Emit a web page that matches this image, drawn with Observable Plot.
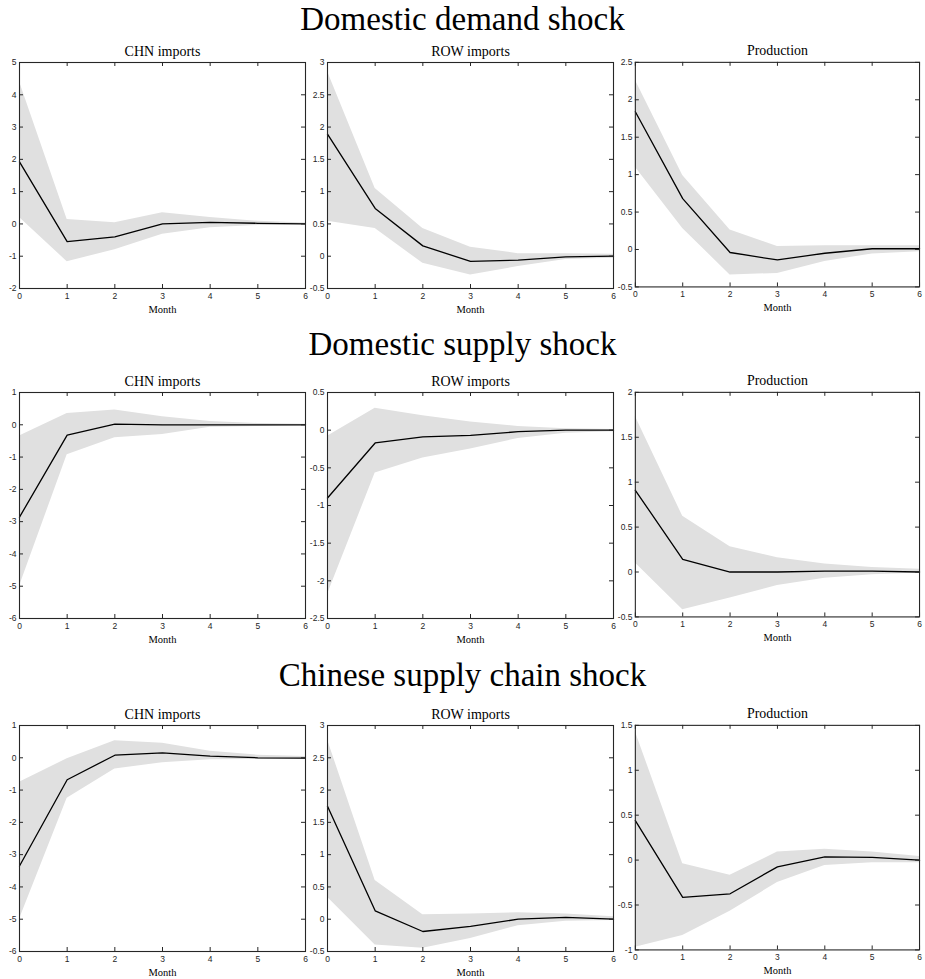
<!DOCTYPE html>
<html>
<head>
<meta charset="utf-8">
<script src="https://cdn.jsdelivr.net/npm/d3@7"></script>
<script src="https://cdn.jsdelivr.net/npm/@observablehq/plot@0.6"></script>
<style>
  body { margin: 0; background: #fff; }
  #chart { position: relative; width: 925px; height: 979px; }
  .row-title {
    position: absolute; left: 0; width: 925px; text-align: center;
    font-family: "Liberation Serif", serif; font-size: 33px; line-height: 1; color: #000;
  }
  .panel { position: absolute; }
</style>
</head>
<body>
<div id="chart"></div>
<script>
const months = [0, 1, 2, 3, 4, 5, 6]
const shocks = ["Domestic demand shock", "Domestic supply shock", "Chinese supply chain shock"]
const variables = ["CHN imports", "ROW imports", "Production"]

// Domestic demand shock
const demandChnMid = [1.92, -0.55, -0.40, 0.00, 0.05, 0.02, 0.00]
const demandChnLo  = [0.20, -1.17, -0.80, -0.32, -0.12, -0.05, -0.03]
const demandChnHi  = [4.40, 0.14, 0.04, 0.35, 0.20, 0.08, 0.03]
const demandRowMid = [1.89, 0.74, 0.16, -0.08, -0.06, -0.01, 0.00]
const demandRowLo  = [0.54, 0.43, -0.11, -0.29, -0.16, -0.05, -0.03]
const demandRowHi  = [2.86, 1.05, 0.43, 0.14, 0.04, 0.04, 0.03]
const demandProdMid = [1.84, 0.68, -0.04, -0.14, -0.05, 0.01, 0.01]
const demandProdLo  = [1.10, 0.28, -0.34, -0.32, -0.16, -0.06, -0.03]
const demandProdHi  = [2.26, 0.99, 0.26, 0.04, 0.05, 0.05, 0.05]

// Domestic supply shock
const supplyChnMid = [-2.86, -0.32, 0.02, 0.00, 0.00, 0.00, 0.00]
const supplyChnLo  = [-5.00, -0.93, -0.40, -0.30, -0.08, -0.05, -0.02]
const supplyChnHi  = [-0.35, 0.35, 0.46, 0.25, 0.10, 0.04, 0.02]
const supplyRowMid = [-0.90, -0.17, -0.09, -0.07, -0.02, 0.00, 0.00]
const supplyRowLo  = [-2.18, -0.57, -0.37, -0.25, -0.11, -0.04, -0.02]
const supplyRowHi  = [-0.08, 0.29, 0.19, 0.11, 0.05, 0.02, 0.01]
const supplyProdMid = [0.91, 0.14, 0.00, 0.00, 0.01, 0.01, 0.00]
const supplyProdLo  = [0.10, -0.42, -0.29, -0.15, -0.07, -0.03, -0.01]
const supplyProdHi  = [1.73, 0.62, 0.28, 0.16, 0.09, 0.05, 0.03]

// Chinese supply chain shock
const chinaChnMid = [-3.35, -0.68, 0.08, 0.15, 0.05, 0.00, -0.01]
const chinaChnLo  = [-5.00, -1.25, -0.35, -0.15, -0.06, -0.05, -0.05]
const chinaChnHi  = [-0.76, -0.03, 0.53, 0.45, 0.20, 0.08, 0.04]
const chinaRowMid = [1.75, 0.13, -0.19, -0.11, 0.00, 0.03, 0.00]
const chinaRowLo  = [0.34, -0.40, -0.45, -0.30, -0.10, -0.03, -0.02]
const chinaRowHi  = [2.78, 0.60, 0.07, 0.08, 0.10, 0.08, 0.04]
const chinaProdMid = [0.44, -0.415, -0.375, -0.075, 0.035, 0.03, 0.00]
const chinaProdLo  = [-0.97, -0.84, -0.57, -0.25, -0.06, -0.03, -0.03]
const chinaProdHi  = [1.43, -0.04, -0.17, 0.09, 0.12, 0.09, 0.04]

// y tick labels for each panel
const ticksDemandChn = [-2, -1, 0, 1, 2, 3, 4, 5]
const ticksDemandRow = [-0.5, 0, 0.5, 1, 1.5, 2, 2.5, 3]
const ticksDemandProd = [-0.5, 0, 0.5, 1, 1.5, 2, 2.5]
const ticksSupplyChn = [-6, -5, -4, -3, -2, -1, 0, 1]
const ticksSupplyRow = [-2.5, -2, -1.5, -1, -0.5, 0, 0.5]
const ticksSupplyProd = [-0.5, 0, 0.5, 1, 1.5, 2]
const ticksChinaChn = [-6, -5, -4, -3, -2, -1, 0, 1]
const ticksChinaRow = [-0.5, 0, 0.5, 1, 1.5, 2, 2.5, 3]
const ticksChinaProd = [-1, -0.5, 0, 0.5, 1, 1.5]

const panels = [
  [[demandChnMid, demandChnLo, demandChnHi, ticksDemandChn],
   [demandRowMid, demandRowLo, demandRowHi, ticksDemandRow],
   [demandProdMid, demandProdLo, demandProdHi, ticksDemandProd]],
  [[supplyChnMid, supplyChnLo, supplyChnHi, ticksSupplyChn],
   [supplyRowMid, supplyRowLo, supplyRowHi, ticksSupplyRow],
   [supplyProdMid, supplyProdLo, supplyProdHi, ticksSupplyProd]],
  [[chinaChnMid, chinaChnLo, chinaChnHi, ticksChinaChn],
   [chinaRowMid, chinaRowLo, chinaRowHi, ticksChinaRow],
   [chinaProdMid, chinaProdLo, chinaProdHi, ticksChinaProd]]
]

// layout of the 3x3 grid (plot area corners)
const colX = [19, 327, 635]
const rowY = [62, 392, 725]
const titleTop = [3, 328, 659]
const innerW = 286, innerH = 226
const ML = 24, MR = 6, MT = 22, MB = 30
const serif = "Liberation Serif"

const root = d3.select('#chart')

shocks.forEach((shock, r) => {
  root.append('div').attr('class', 'row-title')
    .style('top', titleTop[r] + 'px').text(shock)

  variables.forEach((variable, c) => {
    const [mid, lo, hi, yTicks] = panels[r][c]
    const data = months.map((m, i) => ({month: m, mid: mid[i], lo: lo[i], hi: hi[i]}))

    let chart = Plot.plot({
      width: ML + innerW + MR,
      height: MT + innerH + MB,
      marginLeft: ML, marginRight: MR, marginTop: MT, marginBottom: MB,
      style: {fontFamily: "Liberation Sans", fontSize: "8.5px", color: "#262626", background: "none", overflow: "visible"},
      x: {domain: [0, 6]},
      y: {domain: d3.extent(yTicks)},
      marks: [
        Plot.areaY(data, {x: "month", y1: "lo", y2: "hi", fill: "#e0e0e0", curve: "linear"}),
        Plot.lineY(data, {x: "month", y: "mid", stroke: "black", strokeWidth: 1.3}),
        Plot.frame({stroke: "#262626", strokeWidth: 1.1}),
        // MATLAB-style inward ticks on all four sides
        Plot.tickY(yTicks, {y: d => d, stroke: "#262626", insetRight: innerW - 4}),
        Plot.tickY(yTicks, {y: d => d, stroke: "#262626", insetLeft: innerW - 4}),
        Plot.tickX(months, {x: d => d, stroke: "#262626", insetTop: innerH - 4}),
        Plot.tickX(months, {x: d => d, stroke: "#262626", insetBottom: innerH - 4}),
        Plot.axisY(yTicks, {tickSize: 0, tickPadding: 3, tickFormat: d => String(d), label: null}),
        Plot.axisX(months, {tickSize: 0, tickPadding: 4, tickFormat: d => String(d), label: null}),
        Plot.text([variable], {frameAnchor: "top", dy: -7, lineAnchor: "bottom", fontFamily: serif, fontSize: 14, fill: "black"}),
        Plot.text(["Month"], {frameAnchor: "bottom", dy: 21, lineAnchor: "middle", fontFamily: serif, fontSize: 10.5, fill: "black"})
      ]
    })

    root.append('div').attr('class', 'panel')
      .style('left', (colX[c] - ML) + 'px')
      .style('top', (rowY[r] - MT) + 'px')
      .append(() => chart)
  })
})
</script>
</body>
</html>
